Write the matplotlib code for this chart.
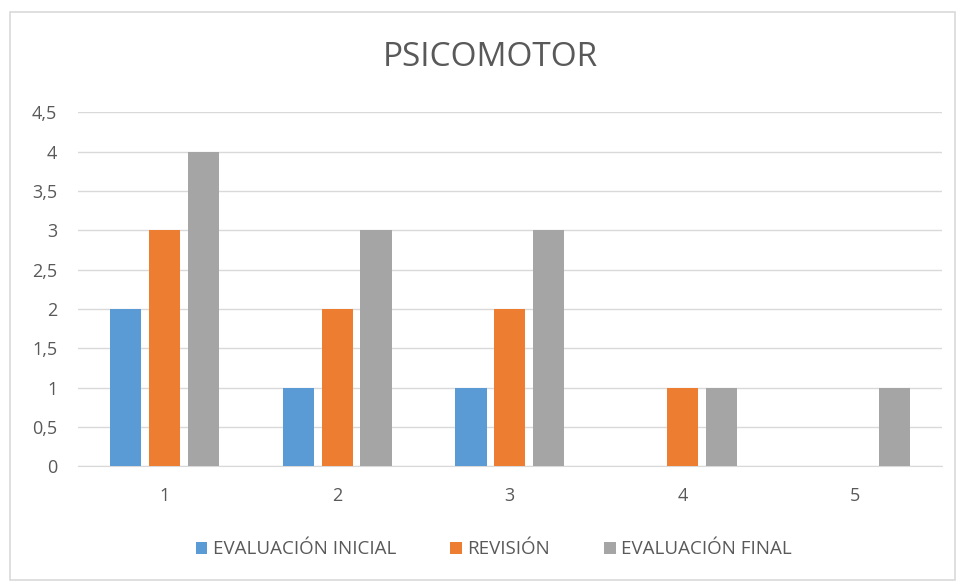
import numpy as np
import matplotlib.pyplot as plt
from matplotlib.patches import Rectangle

categories = ['1', '2', '3', '4', '5']
inicial = [2, 1, 1, 0, 0]
revision = [3, 2, 2, 1, 0]
final = [4, 3, 3, 1, 1]
series_names = ['EVALUACIÓN INICIAL', 'REVISIÓN', 'EVALUACIÓN FINAL']
yticks = [0, 0.5, 1, 1.5, 2, 2.5, 3, 3.5, 4, 4.5]

plt.rcParams['font.family'] = ['Open Sans', 'DejaVu Sans']

fig = plt.figure(figsize=(9.57, 5.82), dpi=100)
ax = fig.add_axes([0.0815, 0.199, 0.9025, 0.608])

# border round the chart
fig.patches.append(Rectangle((10 / 957, 2 / 582), 945 / 957, 568 / 582,
                             transform=fig.transFigure, fill=False,
                             edgecolor='#D9D9D9', linewidth=1.2))

x = np.arange(len(categories))
w = 0.18
step = 0.225
colors = ['#5B9BD5', '#ED7D31', '#A5A5A5']
for i, (vals, name) in enumerate(zip([inicial, revision, final], series_names)):
    ax.bar(x + (i - 1) * step, vals, width=w, color=colors[i], label=name, zorder=3)

ax.set_xlim(-0.5, len(categories) - 0.5)
ax.set_ylim(0, 4.5)
ax.set_yticks(yticks)
ax.set_yticklabels([('%g' % v).replace('.', ',') for v in yticks])
ax.set_xticks(x)
ax.set_xticklabels(categories)
ax.tick_params(length=0, labelsize=13, colors='#595959')
ax.tick_params(axis='x', pad=15)
ax.tick_params(axis='y', pad=15)
ax.grid(axis='y', color='#D9D9D9', linewidth=1, zorder=0)
for s in ['top', 'right', 'left']:
    ax.spines[s].set_visible(False)
ax.spines['bottom'].set_color('#D9D9D9')

fig.text(0.512, 0.901, 'PSICOMOTOR', ha='center', va='center', fontsize=24, color='#595959')

fig.legend(loc='center', bbox_to_anchor=(0.516, 0.056), ncol=3, frameon=False,
           fontsize=13.5, handlelength=0.6, handleheight=0.6, columnspacing=2.9,
           handletextpad=0.3, labelcolor='#595959')

fig.savefig('out.png', dpi=100)
